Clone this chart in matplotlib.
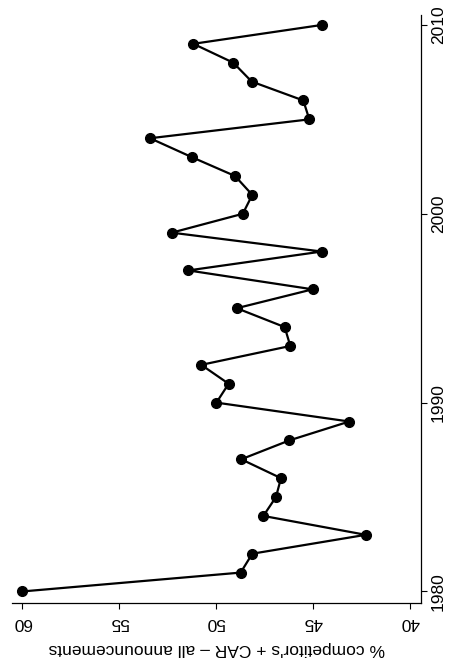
"""
Competitor CAR by year, drawn sideways (rotated layout)
"""
import matplotlib
matplotlib.use('Agg')
import matplotlib.pyplot as plt

years = list(range(1980, 2011))
car_all = [60.0, 48.73, 48.13, 42.28, 47.56, 46.91, 46.65, 48.70, 46.22, 43.13,
           49.98, 49.35, 50.76, 46.17, 46.46, 48.93, 45.02, 51.43, 44.55, 52.28,
           48.62, 48.13, 49.02, 51.25, 53.40, 45.19, 45.50, 48.16, 49.11, 51.17,
           44.54]
value_ticks = [60, 55, 50, 45, 40]
year_ticks = [1980, 1990, 2000, 2010]
xlabel = "% competitor's + CAR \u2013 all announcements"

plt.rcParams['font.family'] = ['Liberation Sans', 'DejaVu Sans']

fig = plt.figure(figsize=(4.49, 6.66), dpi=100, facecolor='white')
ax = fig.add_axes([0.0267, 0.0946, 0.911, 0.883])

# value runs along x (reversed), year along y
ax.plot(car_all, years, color='black', linewidth=1.6, marker='o',
        markersize=7, markerfacecolor='black', markeredgecolor='black')

ax.set_xlim(60.52, 39.43)
ax.set_ylim(1979.39, 2010.53)

ax.set_xticks(value_ticks)
ax.set_xticklabels([str(v) for v in value_ticks], rotation=180, fontsize=12.5)
ax.set_yticks(year_ticks)
ax.yaxis.tick_right()
ax.set_yticklabels([str(y) for y in year_ticks], rotation=90, va='center', fontsize=12.5)
ax.tick_params(axis='x', length=4, width=0.8, pad=4.5)
ax.tick_params(axis='y', length=4, width=0.8, pad=3)

ax.set_xlabel(xlabel, rotation=180, fontsize=12.5, labelpad=8)

ax.spines['top'].set_visible(False)
ax.spines['left'].set_visible(False)
ax.spines['bottom'].set_linewidth(0.9)
ax.spines['right'].set_linewidth(0.9)

plt.savefig('out.png', dpi=100, facecolor='white')
plt.close()
print("done")
